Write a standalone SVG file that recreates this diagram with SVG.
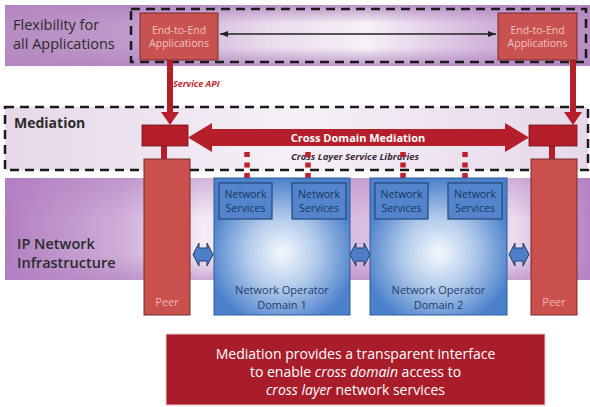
<svg xmlns="http://www.w3.org/2000/svg" width="590" height="407" viewBox="0 0 590 407">
  <defs>
    <linearGradient id="bandTop" x1="0" y1="0" x2="1" y2="0">
      <stop offset="0" stop-color="#b68cc3"/>
      <stop offset="0.22" stop-color="#c09bcb"/>
      <stop offset="0.45" stop-color="#e9dcec"/>
      <stop offset="0.62" stop-color="#f6f1f7"/>
      <stop offset="0.82" stop-color="#d2b4da"/>
      <stop offset="1" stop-color="#b68cc3"/>
    </linearGradient>
    <linearGradient id="bandEdge" x1="0" y1="0" x2="0" y2="1">
      <stop offset="0" stop-color="#b285c0" stop-opacity="0.85"/>
      <stop offset="0.3" stop-color="#b285c0" stop-opacity="0"/>
      <stop offset="0.7" stop-color="#b285c0" stop-opacity="0"/>
      <stop offset="1" stop-color="#b285c0" stop-opacity="0.85"/>
    </linearGradient>
    <linearGradient id="bandMid" x1="0" y1="0" x2="1" y2="0">
      <stop offset="0" stop-color="#e6d8e9"/>
      <stop offset="0.5" stop-color="#f5f0f6"/>
      <stop offset="1" stop-color="#e6d8e9"/>
    </linearGradient>
    <linearGradient id="bandLow" x1="0" y1="0" x2="1" y2="0">
      <stop offset="0" stop-color="#b27fc1"/>
      <stop offset="0.2" stop-color="#cfaed8"/>
      <stop offset="0.34" stop-color="#f4ecf5"/>
      <stop offset="0.6" stop-color="#d9bddf"/>
      <stop offset="0.87" stop-color="#ecdcee"/>
      <stop offset="1" stop-color="#b584c4"/>
    </linearGradient>
    <linearGradient id="bandLowEdge" x1="0" y1="0" x2="0" y2="1">
      <stop offset="0" stop-color="#b07fc0" stop-opacity="0.5"/>
      <stop offset="0.4" stop-color="#b07fc0" stop-opacity="0"/>
      <stop offset="0.75" stop-color="#b07fc0" stop-opacity="0"/>
      <stop offset="1" stop-color="#b07fc0" stop-opacity="0.6"/>
    </linearGradient>
    <radialGradient id="domain" cx="0.5" cy="0.55" r="0.55">
      <stop offset="0" stop-color="#f5f8fd"/>
      <stop offset="0.45" stop-color="#b5cdec"/>
      <stop offset="1" stop-color="#4b80cb"/>
    </radialGradient>
    <marker id="tip" viewBox="0 0 8 6" refX="8" refY="3" markerWidth="8" markerHeight="6" orient="auto-start-reverse" markerUnits="userSpaceOnUse">
      <path d="M0,0 L8,3 L0,6 Z" fill="#222"/>
    </marker>
    <path id="link" d="M0,12.5 L6,1 L6,6 L14,6 L14,1 L20,12.5 L14,24 L14,19 L6,19 L6,24 Z"/>
  </defs>
  <style>
    .lbl { font-family: "Open Sans", "Noto Sans", "DejaVu Sans", sans-serif; fill: #2b2b2b; }
    .dash { fill: none; stroke: #1a1a1a; stroke-width: 2.5; stroke-dasharray: 9 6; }
    .app { fill: #c8524f; stroke: #7a2a28; stroke-width: 1; }
    .appTxt { font-family: "Open Sans", "Noto Sans", sans-serif; font-size: 10.5px; fill: #f6c4c0; text-anchor: middle; }
    .med { fill: #b51f2c; stroke: #6e1018; stroke-width: 0.8; }
    .peer { fill: #c9504d; stroke: #7a2a28; stroke-width: 1; }
    .peerTxt { font-family: "Open Sans", "Noto Sans", sans-serif; font-size: 11px; fill: #f3b8b4; text-anchor: middle; }
    .dom { fill: url(#domain); stroke: #2f5c97; stroke-width: 1; }
    .domTxt { font-family: "Open Sans", "Noto Sans", sans-serif; font-size: 11px; fill: #1f3d6c; text-anchor: middle; }
    .ns { fill: #5485cc; stroke: #23477a; stroke-width: 1.2; }
    .nsTxt { font-family: "Open Sans", "Noto Sans", sans-serif; font-size: 10.5px; fill: #17355f; text-anchor: middle; }
    .hook { fill: none; stroke: #c01f2c; stroke-width: 5.5; stroke-dasharray: 5 5.5; }
    .link { fill: #4c7fc6; stroke: #1e3c6a; stroke-width: 1; }
    .redArrow { fill: #b51f2c; }
  </style>

  <!-- layer bands -->
  <g id="band-applications">
    <rect x="5" y="5" width="585" height="61" fill="url(#bandTop)"/>
    <rect x="5" y="5" width="585" height="61" fill="url(#bandEdge)"/>
    <rect x="131" y="9" width="455" height="53" class="dash"/>
    <text class="lbl" x="13" y="30" font-size="14.5" font-weight="500" fill="#262626">Flexibility for</text>
    <text class="lbl" x="13" y="49" font-size="14.5" font-weight="500" fill="#262626">all Applications</text>
  </g>

  <g id="band-mediation">
    <rect x="5" y="107" width="583" height="63" fill="url(#bandMid)"/>
    <rect x="5" y="107" width="583" height="63" class="dash"/>
    <text class="lbl" x="14" y="128" font-size="14" font-weight="bold">Mediation</text>
  </g>

  <g id="band-infrastructure">
    <rect x="5" y="178" width="585" height="102" fill="url(#bandLow)"/>
    <rect x="5" y="178" width="585" height="102" fill="url(#bandLowEdge)"/>
    <text class="lbl" x="17" y="249" font-size="14.5" font-weight="600" fill="#333">IP Network</text>
    <text class="lbl" x="17" y="268" font-size="14.5" font-weight="600" fill="#333">Infrastructure</text>
  </g>

  <!-- connectors -->
  <g id="connectors">
    <line x1="220" y1="34" x2="496" y2="34" stroke="#222" stroke-width="1.3" marker-start="url(#tip)" marker-end="url(#tip)"/>
    <rect x="167" y="60" width="6" height="54" class="redArrow"/>
    <path d="M161,112 L179,112 L170,125 Z" class="redArrow"/>
    <rect x="570" y="60" width="6" height="54" class="redArrow"/>
    <path d="M564,112 L582,112 L573,125 Z" class="redArrow"/>
    <text x="173" y="87" font-family="'Open Sans', 'Noto Sans', sans-serif" font-size="9" font-style="italic" font-weight="bold" fill="#c0282d">Service API</text>
    <!-- cross domain mediation arrow -->
    <path d="M188,137.5 L212,123 L212,129 L505,129 L505,123 L529,137.5 L505,152 L505,146 L212,146 L212,152 Z" class="redArrow"/>
    <text x="358" y="142" font-family="'Open Sans', 'Noto Sans', sans-serif" font-size="11" font-weight="bold" fill="#fff" text-anchor="middle">Cross Domain Mediation</text>
    <text x="355" y="160" font-family="'Open Sans', 'Noto Sans', sans-serif" font-size="9.5" font-style="italic" font-weight="bold" fill="#3a2a3a" text-anchor="middle">Cross Layer Service Libraries</text>
    <!-- library hooks -->
    <line x1="247" y1="152" x2="247" y2="183" class="hook"/>
    <line x1="308" y1="152" x2="308" y2="183" class="hook"/>
    <line x1="403" y1="152" x2="403" y2="183" class="hook"/>
    <line x1="465" y1="152" x2="465" y2="183" class="hook"/>
    <!-- peer stems -->
    <rect x="161" y="146" width="6" height="13" class="redArrow"/>
    <rect x="549" y="146" width="6" height="13" class="redArrow"/>
    <!-- peering links -->
    <use href="#link" x="193" y="242" class="link"/>
    <use href="#link" x="350" y="242" class="link"/>
    <use href="#link" x="509" y="242" class="link"/>
  </g>

  <!-- application nodes -->
  <g id="app-left">
    <rect x="140" y="13" width="78" height="47" class="app"/>
    <text class="appTxt" x="179" y="34">End-to-End</text>
    <text class="appTxt" x="179" y="47">Applications</text>
  </g>
  <g id="app-right">
    <rect x="498" y="13" width="79" height="47" class="app"/>
    <text class="appTxt" x="537.5" y="34">End-to-End</text>
    <text class="appTxt" x="537.5" y="47">Applications</text>
  </g>

  <!-- mediation endpoints -->
  <g id="med-left">
    <rect x="142" y="125" width="46" height="21" class="med"/>
  </g>
  <g id="med-right">
    <rect x="529" y="125" width="48" height="21" class="med"/>
  </g>

  <!-- peers -->
  <g id="peer-left">
    <rect x="144" y="159" width="46" height="156" class="peer"/>
    <text class="peerTxt" x="167" y="306">Peer</text>
  </g>
  <g id="peer-right">
    <rect x="531" y="159" width="46" height="156" class="peer"/>
    <text class="peerTxt" x="554" y="306">Peer</text>
  </g>

  <!-- operator domains -->
  <g id="domain-1">
    <rect x="214" y="178" width="136" height="137" class="dom"/>
    <text class="domTxt" x="282" y="294">Network Operator</text>
    <text class="domTxt" x="282" y="308.5">Domain 1</text>
  </g>
  <g id="domain-2">
    <rect x="370" y="178" width="137" height="137" class="dom"/>
    <text class="domTxt" x="438.5" y="294">Network Operator</text>
    <text class="domTxt" x="438.5" y="308.5">Domain 2</text>
  </g>

  <!-- network services -->
  <g id="ns-1a">
    <rect x="219" y="183" width="53" height="36" class="ns"/>
    <text class="nsTxt" x="245.5" y="198">Network</text>
    <text class="nsTxt" x="245.5" y="212">Services</text>
  </g>
  <g id="ns-1b">
    <rect x="292" y="183" width="54" height="36" class="ns"/>
    <text class="nsTxt" x="319" y="198">Network</text>
    <text class="nsTxt" x="319" y="212">Services</text>
  </g>
  <g id="ns-2a">
    <rect x="375" y="183" width="53" height="36" class="ns"/>
    <text class="nsTxt" x="401.5" y="198">Network</text>
    <text class="nsTxt" x="401.5" y="212">Services</text>
  </g>
  <g id="ns-2b">
    <rect x="448" y="183" width="54" height="36" class="ns"/>
    <text class="nsTxt" x="475" y="198">Network</text>
    <text class="nsTxt" x="475" y="212">Services</text>
  </g>

  <!-- summary note -->
  <g id="note">
    <rect x="166" y="334" width="379" height="71" fill="#a91d2b" stroke="#e8c8c8" stroke-width="1"/>
    <g font-family="'Open Sans', 'Noto Sans', sans-serif" font-size="14" fill="#fff" text-anchor="middle">
      <text x="355.5" y="359">Mediation provides a transparent interface</text>
      <text x="355.5" y="377">to enable <tspan font-style="italic">cross domain</tspan> access to</text>
      <text x="355.5" y="395"><tspan font-style="italic">cross layer</tspan> network services</text>
    </g>
  </g>
</svg>
